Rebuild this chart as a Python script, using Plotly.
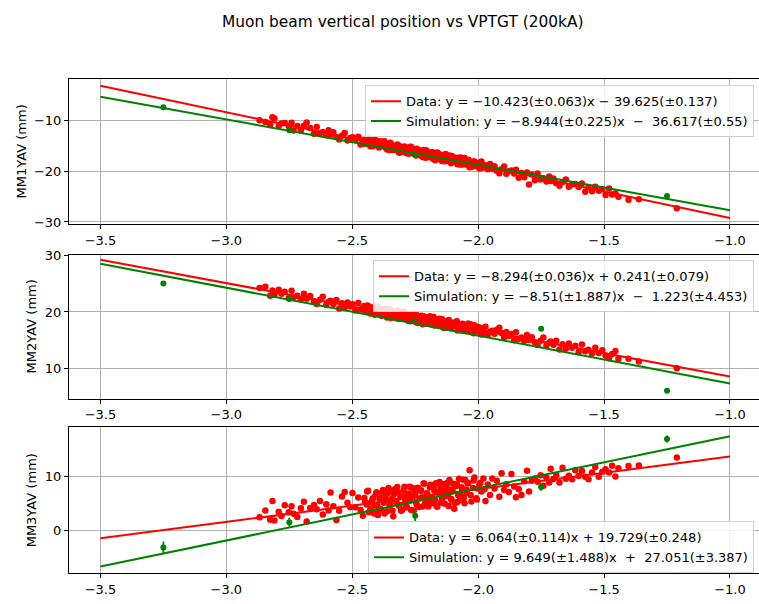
import plotly.graph_objects as go

# ---- measured beam positions (data) ----
vptgt = [
    -2.868, -2.845, -2.826, -2.817, -2.809, -2.792, -2.781, -2.768, -2.752, -2.741,
    -2.733, -2.718, -2.704, -2.692, -2.681, -2.667, -2.652, -2.641, -2.628, -2.617,
    -2.603, -2.594, -2.586, -2.575, -2.563, -2.552, -2.541, -2.530, -2.519, -2.508,
    -2.499, -2.488, -2.476, -2.467, -2.458, -2.449, -2.441, -2.434, -2.426, -2.418,
    -2.411, -2.404, -2.398, -2.392, -2.386, -2.381, -2.375, -2.369, -2.362, -2.356,
    -2.349, -2.343, -2.337, -2.331, -2.325, -2.318, -2.312, -2.306, -2.299, -2.293,
    -2.287, -2.281, -2.275, -2.269, -2.263, -2.256, -2.250, -2.244, -2.238, -2.232,
    -2.226, -2.220, -2.214, -2.207, -2.201, -2.195, -2.189, -2.183, -2.177, -2.171,
    -2.165, -2.159, -2.153, -2.147, -2.141, -2.135, -2.129, -2.123, -2.117, -2.111,
    -2.105, -2.099, -2.095, -2.088, -2.082, -2.076, -2.069, -2.063, -2.057, -2.051,
    -2.045, -2.039, -2.034, -2.027, -2.021, -2.015, -2.008, -2.002, -1.995, -1.987,
    -1.979, -1.971, -1.962, -1.953, -1.944, -1.935, -1.926, -1.916, -1.907, -1.897,
    -1.888, -1.878, -1.868, -1.857, -1.850, -1.839, -1.828, -1.817, -1.806, -1.798,
    -1.787, -1.775, -1.764, -1.752, -1.741, -1.729, -1.718, -1.712, -1.701, -1.690,
    -1.677, -1.665, -1.652, -1.640, -1.627, -1.614, -1.601, -1.588, -1.575, -1.562,
    -1.548, -1.535, -1.521, -1.507, -1.494, -1.480, -1.468, -1.455, -1.443, -1.403,
    -1.362, -1.211,
    -2.452, -2.443, -2.437, -2.428, -2.421, -2.413, -2.407, -2.400, -2.393, -2.384,
    -2.378, -2.372, -2.365, -2.359, -2.352, -2.346, -2.340, -2.334, -2.328, -2.321,
    -2.315, -2.309, -2.302, -2.296, -2.290, -2.284, -2.278, -2.272, -2.266, -2.259,
    -2.253, -2.247, -2.241, -2.235, -2.229, -2.223, -2.217, -2.210, -2.204, -2.198,
    -2.192, -2.186, -2.180, -2.174, -2.168, -2.162, -2.156, -2.150, -2.144, -2.138,
    -2.132, -2.126, -2.120, -2.114, -2.108, -2.102, -2.092, -2.085, -2.079, -2.072,
    -2.066, -2.060, -2.054, -2.048, -2.042, -2.030, -2.018, -2.005, -1.991, -1.975,
]

mm1yav = [
    -9.95, -10.31, -10.89, -9.35, -9.58, -11.07, -10.60, -10.47, -11.11, -10.42,
    -11.95, -11.09, -11.91, -11.02, -10.40, -11.45, -12.62, -11.29, -12.49, -12.26,
    -12.92, -11.91, -12.80, -12.32, -13.25, -13.75, -13.01, -12.48, -13.92, -13.44,
    -13.28, -13.86, -13.18, -14.72, -13.80, -14.57, -13.63, -14.35, -13.96, -15.06,
    -13.69, -14.83, -14.54, -15.12, -14.08, -14.94, -14.40, -15.27, -15.73, -14.94,
    -14.37, -15.75, -15.23, -15.03, -15.56, -14.82, -16.34, -15.38, -16.13, -15.18,
    -15.88, -15.47, -16.55, -15.17, -16.30, -16.02, -16.60, -15.56, -16.43, -15.89,
    -16.76, -17.21, -16.42, -15.85, -17.23, -16.71, -16.51, -17.04, -16.29, -17.81,
    -16.85, -17.59, -16.63, -17.34, -16.93, -18.01, -16.62, -17.76, -17.47, -18.05,
    -17.00, -17.88, -17.32, -18.20, -18.64, -17.86, -17.29, -18.67, -18.14, -17.95,
    -18.48, -17.73, -19.23, -18.29, -19.03, -18.07, -18.79, -18.38, -19.47, -18.10,
    -19.26, -18.99, -19.61, -18.59, -19.49, -18.99, -19.89, -20.37, -19.62, -19.08,
    -20.50, -20.01, -19.86, -20.44, -19.70, -21.27, -20.36, -21.16, -20.25, -22.60,
    -20.62, -21.76, -20.43, -21.62, -21.39, -22.03, -21.04, -21.91, -21.43, -22.35,
    -22.87, -22.14, -21.64, -23.08, -22.63, -22.50, -23.11, -22.43, -24.02, -23.13,
    -23.96, -23.08, -23.86, -23.54, -24.69, -23.39, -24.58, -24.37, -25.02, -25.60,
    -25.50, -27.30,
    -14.58, -13.90, -13.50, -15.09, -14.30, -14.00, -14.84, -14.01, -15.32, -14.40,
    -14.88, -14.09, -15.36, -14.87, -15.79, -14.66, -15.45, -15.81, -15.10, -14.71,
    -16.27, -15.47, -15.16, -15.99, -15.16, -16.46, -15.50, -15.98, -15.20, -16.46,
    -15.97, -16.88, -15.76, -16.54, -16.90, -16.19, -15.80, -17.36, -16.56, -16.25,
    -17.08, -16.24, -17.54, -16.59, -17.07, -16.28, -17.53, -17.05, -17.96, -16.83,
    -17.61, -17.98, -17.27, -16.87, -18.42, -17.63, -17.35, -18.19, -17.36, -18.67,
    -17.71, -18.19, -17.41, -18.66, -18.17, -19.15, -18.08, -18.94, -19.38, -18.78,
]

mm2yav = [
    24.25, 24.48, 22.87, 23.82, 23.07, 23.95, 23.22, 23.58, 22.43, 23.79,
    22.65, 22.87, 22.24, 23.25, 22.35, 22.83, 21.90, 21.43, 22.17, 22.72,
    21.28, 21.80, 21.99, 21.43, 22.14, 20.60, 21.53, 20.75, 21.68, 20.95,
    21.35, 20.24, 21.59, 20.44, 20.72, 20.12, 21.17, 20.30, 20.83, 19.96,
    19.52, 20.31, 20.90, 19.53, 20.07, 20.29, 19.77, 20.53, 19.02, 19.99,
    19.25, 20.22, 19.53, 19.95, 18.88, 20.28, 19.16, 19.46, 18.88, 19.94,
    19.08, 19.63, 18.77, 18.34, 19.14, 19.72, 18.35, 18.89, 19.10, 18.58,
    19.34, 17.84, 18.81, 18.08, 19.05, 18.36, 18.78, 17.71, 19.11, 17.99,
    18.29, 17.72, 18.78, 17.92, 18.47, 17.61, 17.18, 17.98, 18.57, 17.20,
    17.74, 17.95, 17.45, 18.20, 16.70, 17.67, 16.93, 17.90, 17.21, 17.63,
    16.56, 17.96, 16.85, 17.14, 16.57, 17.63, 16.77, 17.32, 16.45, 16.00,
    16.79, 17.36, 15.96, 16.48, 16.66, 16.12, 16.86, 17.20, 16.27, 15.51,
    16.45, 15.73, 16.11, 15.00, 16.40, 15.23, 15.49, 14.88, 15.90, 15.02,
    15.53, 14.62, 14.15, 14.90, 15.45, 14.03, 14.53, 14.74, 14.18, 14.90,
    13.34, 14.26, 13.47, 14.39, 13.65, 14.01, 12.88, 14.22, 13.04, 13.29,
    12.65, 13.65, 12.73, 13.21, 12.29, 11.80, 12.55, 13.08, 11.66, 11.70,
    11.20, 10.00,
    21.05, 20.20, 21.05, 19.74, 20.70, 20.21, 21.01, 19.77, 20.26, 19.33,
    20.47, 19.70, 19.35, 20.07, 20.47, 18.93, 19.74, 20.07, 19.25, 20.09,
    18.80, 19.77, 19.29, 20.09, 18.85, 19.35, 18.45, 19.60, 18.83, 18.47,
    19.19, 19.60, 18.06, 18.87, 19.20, 18.38, 19.23, 17.93, 18.90, 18.43,
    19.23, 17.99, 18.49, 17.59, 18.73, 17.96, 17.61, 18.33, 18.74, 17.20,
    18.01, 18.34, 17.52, 18.38, 17.09, 18.06, 17.55, 18.34, 17.10, 17.60,
    16.70, 17.84, 17.07, 16.72, 17.44, 17.80, 16.21, 16.96, 17.22, 16.32,
]

mm3yav = [
    2.40, 3.66, 1.96, 5.40, 1.80, 3.45, 2.62, 4.64, 3.32, 4.44,
    3.06, 2.47, 4.06, 5.26, 1.60, 4.14, 4.68, 3.91, 5.42, 2.93,
    4.82, 3.67, 7.00, 4.46, 1.90, 3.62, 6.25, 7.10, 5.10, 4.27,
    6.90, 4.26, 6.09, 3.77, 2.69, 5.26, 7.18, 3.34, 5.15, 5.95,
    4.61, 7.03, 2.81, 5.85, 3.88, 6.92, 5.08, 6.49, 3.53, 7.82,
    4.74, 5.77, 2.60, 7.59, 5.25, 7.05, 4.71, 3.62, 6.17, 8.07,
    4.23, 6.03, 6.81, 5.47, 7.89, 3.67, 6.72, 4.74, 7.79, 5.94,
    7.36, 4.39, 8.68, 5.60, 6.63, 5.17, 8.45, 6.11, 7.91, 5.56,
    4.47, 7.02, 8.92, 5.08, 6.88, 7.66, 6.32, 8.74, 4.51, 7.56,
    5.58, 8.63, 4.00, 8.20, 5.22, 9.52, 6.43, 7.47, 6.01, 9.29,
    6.95, 8.74, 11.10, 5.31, 7.85, 9.76, 5.92, 7.72, 8.51, 7.18,
    9.61, 5.40, 8.46, 6.51, 9.57, 7.75, 9.18, 6.23, 10.55, 7.48,
    8.53, 7.09, 10.40, 8.09, 6.10, 7.58, 6.51, 9.09, 11.03, 7.20,
    9.15, 9.59, 8.99, 10.20, 8.23, 9.74, 8.85, 11.40, 9.49, 10.22,
    8.86, 11.60, 9.55, 10.10, 9.46, 11.10, 10.04, 10.96, 9.90, 9.44,
    10.72, 11.70, 9.93, 10.85, 11.29, 10.71, 11.93, 9.97, 11.48, 11.90,
    12.00, 13.50,
    5.99, 4.78, 7.33, 3.88, 5.55, 3.10, 6.63, 4.55, 3.72, 6.02,
    7.44, 3.10, 5.64, 6.80, 4.59, 7.25, 3.66, 6.71, 5.48, 8.03,
    4.56, 6.23, 3.77, 7.31, 5.21, 4.38, 6.67, 8.08, 3.74, 6.28,
    7.45, 5.22, 7.89, 4.30, 7.34, 6.12, 8.67, 5.20, 6.86, 4.40,
    7.94, 5.84, 5.01, 7.30, 8.71, 4.37, 6.91, 8.07, 5.85, 8.51,
    4.92, 7.97, 6.74, 9.29, 5.82, 7.48, 5.04, 8.59, 6.49, 5.66,
    7.95, 9.37, 5.02, 7.56, 8.73, 6.54, 9.24, 5.69, 8.79, 7.62,
]

# ---- simulated beam positions ----
sim_vptgt = [-3.25, -2.75, -2.25, -1.75, -1.25]
sim_mm1 = [-7.4, -11.9, -16.8, -21.3, -24.9]
sim_mm1_err = [0.2, 0.2, 0.2, 0.2, 0.2]
sim_mm2 = [25.05, 22.3, 18.7, 17.0, 6.0]
sim_mm2_err = [0.2, 0.2, 0.2, 0.2, 0.2]
sim_mm3 = [-3.2, 1.5, 2.7, 8.0, 16.9]
sim_mm3_err = [1.1, 0.8, 1.0, 0.7, 0.65]

# ---- linear fit results: (slope, intercept) ----
fit_data = [(-10.423, -39.625), (-8.294, 0.241), (6.064, 19.729)]
fit_sim = [(-8.944, -36.617), (-8.51, -1.223), (9.649, 27.051)]
fit_x = [-3.5, -1.0]

legend_data = [
    "Data: y = \u221210.423(\u00b10.063)x \u2212 39.625(\u00b10.137)",
    "Data: y = \u22128.294(\u00b10.036)x + 0.241(\u00b10.079)",
    "Data: y = 6.064(\u00b10.114)x + 19.729(\u00b10.248)",
]
legend_sim = [
    "Simulation: y = \u22128.944(\u00b10.225)x \u00a0\u2212\u00a0 36.617(\u00b10.55)",
    "Simulation: y = \u22128.51(\u00b11.887)x \u00a0\u2212\u00a0 1.223(\u00b14.453)",
    "Simulation: y = 9.649(\u00b11.488)x \u00a0+\u00a0 27.051(\u00b13.387)",
]

y_titles = ["MM1YAV (mm)", "MM2YAV (mm)", "MM3YAV (mm)"]
x_ticks = [-3.5, -3.0, -2.5, -2.0, -1.5, -1.0]
x_ticktext = ["\u22123.5", "\u22123.0", "\u22122.5", "\u22122.0", "\u22121.5", "\u22121.0"]
y_ticks = [[-10, -20, -30], [10, 20, 30], [0, 10]]
y_ticktext = [["\u221210", "\u221220", "\u221230"], ["10", "20", "30"], ["0", "10"]]

data_series = [mm1yav, mm2yav, mm3yav]
sim_series = [sim_mm1, sim_mm2, sim_mm3]
sim_errors = [sim_mm1_err, sim_mm2_err, sim_mm3_err]

# ---- layout geometry (pixels) ----
W, H = 759, 604
ML = 69
PW = W - ML
panels_px = [(74, 222.3), (253.3, 400), (429.3, 577.7)]
y_ranges = [[-30.45, -1.74], [4.6, 30.17], [-7.95, 19.04]]
legend_top_px = [80.7, 259, 525]
ytitle_x_px = [21, 31.7, 31]

FONT = "DejaVu Sans"
FS = 13
RED = "#ff0000"
GREEN = "#008000"

fig = go.Figure()

for i in range(3):
    sfx = "" if i == 0 else str(i + 1)
    xa, ya = "x" + sfx, "y" + sfx
    leg = "legend" + sfx

    fig.add_trace(go.Scatter(
        x=vptgt, y=data_series[i], mode="markers", xaxis=xa, yaxis=ya,
        marker=dict(color=RED, size=6.5, line=dict(width=0)),
        showlegend=False, hoverinfo="skip",
    ))
    fig.add_trace(go.Scatter(
        x=sim_vptgt, y=sim_series[i], mode="markers", xaxis=xa, yaxis=ya,
        marker=dict(color=GREEN, size=6, line=dict(width=0)),
        error_y=dict(type="data", array=sim_errors[i], color=GREEN,
                     thickness=1.8, width=0),
        showlegend=False, hoverinfo="skip",
    ))
    a, b = fit_data[i]
    fig.add_trace(go.Scatter(
        x=fit_x, y=[a * v + b for v in fit_x], mode="lines",
        xaxis=xa, yaxis=ya, line=dict(color=RED, width=2),
        name=legend_data[i], legend=leg,
    ))
    a, b = fit_sim[i]
    fig.add_trace(go.Scatter(
        x=fit_x, y=[a * v + b for v in fit_x], mode="lines",
        xaxis=xa, yaxis=ya, line=dict(color=GREEN, width=2),
        name=legend_sim[i], legend=leg,
    ))

    top, bot = panels_px[i]
    dom = [1 - bot / H, 1 - top / H]
    axis_common = dict(
        showline=True, linecolor="black", linewidth=1.1,
        showgrid=True, gridcolor="#b0b0b0", gridwidth=0.9,
        ticks="outside", ticklen=4, tickwidth=1, tickcolor="black",
        tickfont=dict(family=FONT, size=FS, color="black"),
        zeroline=False,
    )
    fig.layout["xaxis" + sfx] = dict(
        axis_common, domain=[0, 1], range=[-3.6248, -0.8848],
        tickvals=x_ticks, ticktext=x_ticktext, anchor=ya, mirror=True,
    )
    fig.layout["yaxis" + sfx] = dict(
        axis_common, domain=dom, range=y_ranges[i],
        tickvals=y_ticks[i], ticktext=y_ticktext[i], anchor=xa,
    )
    fig.layout[leg] = dict(
        x=(754 - ML) / PW, xanchor="right",
        y=1 - legend_top_px[i] / H, yanchor="top",
        bgcolor="rgba(255,255,255,0.85)", bordercolor="#d0d0d0", borderwidth=1,
        font=dict(family=FONT, size=FS, color="black"),
        tracegroupgap=0,
    )
    fig.add_annotation(
        text=y_titles[i], textangle=-90, showarrow=False,
        xref="paper", yref="paper",
        x=(ytitle_x_px[i] - ML) / PW, y=1 - (top + bot) / 2 / H,
        xanchor="center", yanchor="middle",
        font=dict(family=FONT, size=FS, color="black"),
    )

fig.add_annotation(
    text="Muon beam vertical position vs VPTGT (200kA)", showarrow=False,
    xref="paper", yref="paper", x=(402.7 - ML) / PW, y=1 - 16 / H,
    xanchor="center", yanchor="middle",
    font=dict(family=FONT, size=15.4, color="black"),
)

fig.update_layout(
    width=W, height=H,
    margin=dict(l=ML, r=0, t=0, b=0),
    paper_bgcolor="white", plot_bgcolor="white",
    font=dict(family=FONT, color="black"),
)

fig.write_html("out.html")
